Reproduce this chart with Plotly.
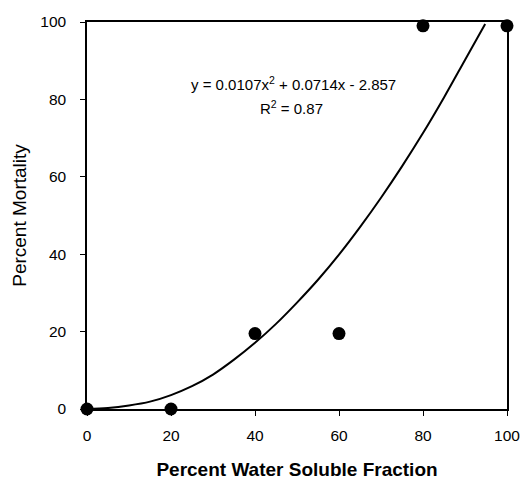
import plotly.graph_objects as go

# Data
wsf_percent = [0, 20, 40, 60, 80, 100]
mortality_percent = [0, 0, 19.5, 19.5, 99, 99]

# Polynomial trendline (follows y = 0.0107x^2 + 0.0714x - 2.857)
trend_x = [0, 5, 10, 15, 20, 25, 30, 35, 40, 45, 50, 55, 60, 65, 70, 75, 80, 85, 90, 94.8]
trend_y = [0, 0.25, 0.9, 1.9, 3.6, 5.9, 8.9, 12.75, 17.1, 22.0, 27.5, 33.4, 39.9,
           47.0, 54.6, 62.7, 71.3, 80.5, 90.2, 99.5]

x_ticks = [0, 20, 40, 60, 80, 100]
y_ticks = [0, 20, 40, 60, 80, 100]

equation_text = "y = 0.0107x<sup>2</sup> + 0.0714x - 2.857"
r2_text = "R<sup>2</sup> = 0.87"

font_family = "Liberation Sans, Arial, sans-serif"

L, R, T, B = 87, 19, 22, 72
W, H = 526, 481
plot_w = W - L - R
plot_h = H - T - B


def px_to_paper(px, py):
    return (px - L) / plot_w, 1 - (py - T) / plot_h


fig = go.Figure()
fig.add_trace(go.Scatter(x=trend_x, y=trend_y, mode="lines", line_shape="spline",
                         line=dict(color="black", width=2), hoverinfo="skip"))
fig.add_trace(go.Scatter(x=wsf_percent, y=mortality_percent, mode="markers",
                         marker=dict(color="black", size=13),
                         cliponaxis=False))

ax1 = px_to_paper(293, 83)
ax2 = px_to_paper(291, 107)

fig.update_layout(
    width=W, height=H,
    margin=dict(l=L, r=R, t=T, b=B, autoexpand=False),
    paper_bgcolor="white", plot_bgcolor="white",
    showlegend=False,
    font=dict(family=font_family, color="black"),
    xaxis=dict(range=[0, 100], tickvals=x_ticks, showgrid=False, zeroline=False,
               showline=True, linecolor="black", linewidth=1.5, mirror=True,
               ticks="outside", ticklen=5, tickcolor="black", tickwidth=1,
               ticklabelstandoff=7, automargin=False,
               tickfont=dict(size=15.5, family=font_family),
               title=dict(text="<b>Percent Water Soluble Fraction</b>",
                          font=dict(size=19, family=font_family), standoff=19)),
    yaxis=dict(range=[0, 100], tickvals=y_ticks, showgrid=False, zeroline=False,
               showline=True, linecolor="black", linewidth=1.5, mirror=True,
               ticks="outside", ticklen=5, tickcolor="black", tickwidth=1,
               ticklabelstandoff=11, automargin=False,
               tickfont=dict(size=15.5, family=font_family),
               title=dict(text="Percent Mortality",
                          font=dict(size=19, family=font_family), standoff=9)),
    annotations=[
        dict(x=ax1[0], y=ax1[1], xref="paper", yref="paper", text=equation_text,
             showarrow=False, font=dict(size=15, family=font_family),
             xanchor="center", yanchor="middle"),
        dict(x=ax2[0], y=ax2[1], xref="paper", yref="paper", text=r2_text,
             showarrow=False, font=dict(size=15, family=font_family),
             xanchor="center", yanchor="middle"),
    ],
)

fig.write_html("out.html")
